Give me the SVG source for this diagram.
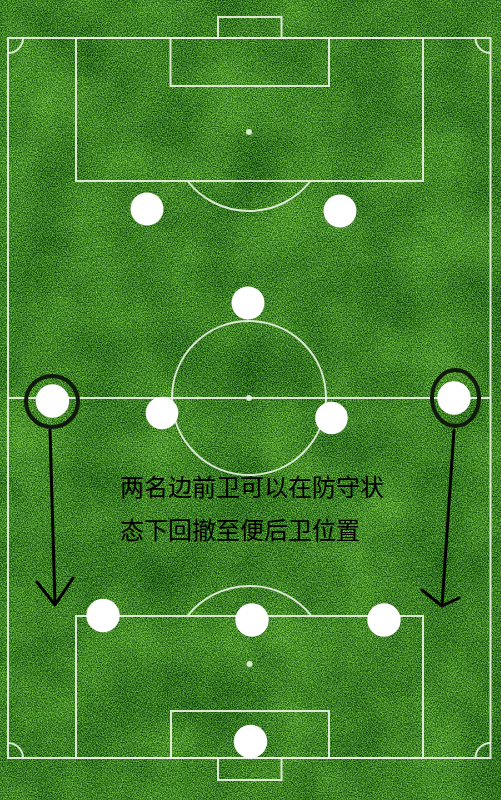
<svg xmlns="http://www.w3.org/2000/svg" width="501" height="800" viewBox="0 0 501 800">
<defs>
<filter id="grass" x="0" y="0" width="100%" height="100%" color-interpolation-filters="sRGB">
<feTurbulence type="fractalNoise" baseFrequency="0.8" numOctaves="2" seed="7" result="f"/>
<feColorMatrix in="f" type="matrix" values="1 0 0 0 0  1 0 0 0 0  1 0 0 0 0  0 0 0 0 1" result="f2"/>
<feTurbulence type="fractalNoise" baseFrequency="0.015" numOctaves="3" seed="3" result="c"/>
<feColorMatrix in="c" type="matrix" values="1 0 0 0 0  1 0 0 0 0  1 0 0 0 0  0 0 0 0 1" result="c2"/>
<feComposite in="f2" in2="c2" operator="arithmetic" k1="0" k2="1.0" k3="0.3" k4="-0.15" result="m"/>
<feColorMatrix in="m" type="matrix" values="0.7 0 0 0 -0.11  0.85 0 0 0 0.08  0.35 0 0 0 -0.03  0 0 0 0 1"/>
</filter>
<style>
.ln{fill:none;stroke:#e9f2e2;stroke-width:2;stroke-opacity:0.92}
.spot{fill:#e9f2e2;fill-opacity:0.9}
.pl{fill:#ffffff}
.ring{fill:none;stroke:#111a0e;stroke-width:4}
.ar{fill:none;stroke:#000;stroke-width:3;stroke-linecap:round;stroke-linejoin:round}
.tx{font-family:"Noto Sans CJK SC","Noto Sans",sans-serif;font-size:24px;fill:#000}
</style>
</defs>
<rect x="0" y="0" width="501" height="800" fill="#3a8229"/>
<rect x="0" y="0" width="501" height="800" filter="url(#grass)"/>
<g id="pitch">
<rect class="ln" x="8" y="38" width="482.5" height="720"/>
<line class="ln" x1="8" y1="398" x2="490.5" y2="398"/>
<circle class="ln" cx="249" cy="398" r="77"/>
<circle class="spot" cx="249" cy="398" r="3"/>
<rect class="ln" x="218" y="17" width="63.5" height="21"/>
<rect class="ln" x="170.5" y="38" width="158.5" height="48"/>
<rect class="ln" x="76" y="38" width="347" height="143"/>
<circle class="spot" cx="249" cy="132" r="3"/>
<path class="ln" d="M187.5 181 A78 78 0 0 0 310.5 181"/>
<rect class="ln" x="218" y="758" width="63.5" height="22"/>
<rect class="ln" x="171" y="711" width="158" height="47"/>
<rect class="ln" x="76" y="616" width="347" height="142"/>
<circle class="spot" cx="249.5" cy="664" r="3"/>
<path class="ln" d="M187.5 616 A79 79 0 0 1 311.5 616"/>
<path class="ln" d="M8 53 A15 15 0 0 0 23 38"/>
<path class="ln" d="M475.5 38 A15 15 0 0 0 490.5 53"/>
<path class="ln" d="M8 743 A15 15 0 0 1 23 758"/>
<path class="ln" d="M475.5 758 A15 15 0 0 1 490.5 743"/>
</g>
<g id="connectors">
<path id="arrow-left" class="ar" d="M50 430 L55 605 M37 582 L55 605 L73 578"/>
<path id="arrow-right" class="ar" d="M454 430 L442 606 M422 590 L442 606 L459 598"/>
</g>
<g id="p-top-left"><circle class="pl" cx="147" cy="209" r="16.5"/></g>
<g id="p-top-right"><circle class="pl" cx="340" cy="211" r="16.5"/></g>
<g id="p-center-fwd"><circle class="pl" cx="248" cy="303" r="16.5"/></g>
<g id="p-left-wing"><circle class="pl" cx="52.5" cy="401" r="16.7"/><ellipse class="ring" cx="52" cy="401.5" rx="26" ry="25.5"/></g>
<g id="p-right-wing"><circle class="pl" cx="454" cy="398" r="16.7"/><ellipse class="ring" cx="455.5" cy="398" rx="23.5" ry="28"/></g>
<g id="p-mid-left"><circle class="pl" cx="162" cy="413" r="16.3"/></g>
<g id="p-mid-right"><circle class="pl" cx="331.5" cy="418" r="16.3"/></g>
<g id="p-def-left"><circle class="pl" cx="103" cy="615.5" r="16.7"/></g>
<g id="p-def-center"><circle class="pl" cx="252" cy="620" r="16.7"/></g>
<g id="p-def-right"><circle class="pl" cx="384" cy="620" r="16.7"/></g>
<g id="p-goalkeeper"><circle class="pl" cx="250.5" cy="741.5" r="16.7"/></g>
<g id="caption">
<text class="tx" x="120" y="496">两名边前卫可以在防守状</text>
<text class="tx" x="120" y="539">态下回撤至便后卫位置</text>
</g>
</svg>
